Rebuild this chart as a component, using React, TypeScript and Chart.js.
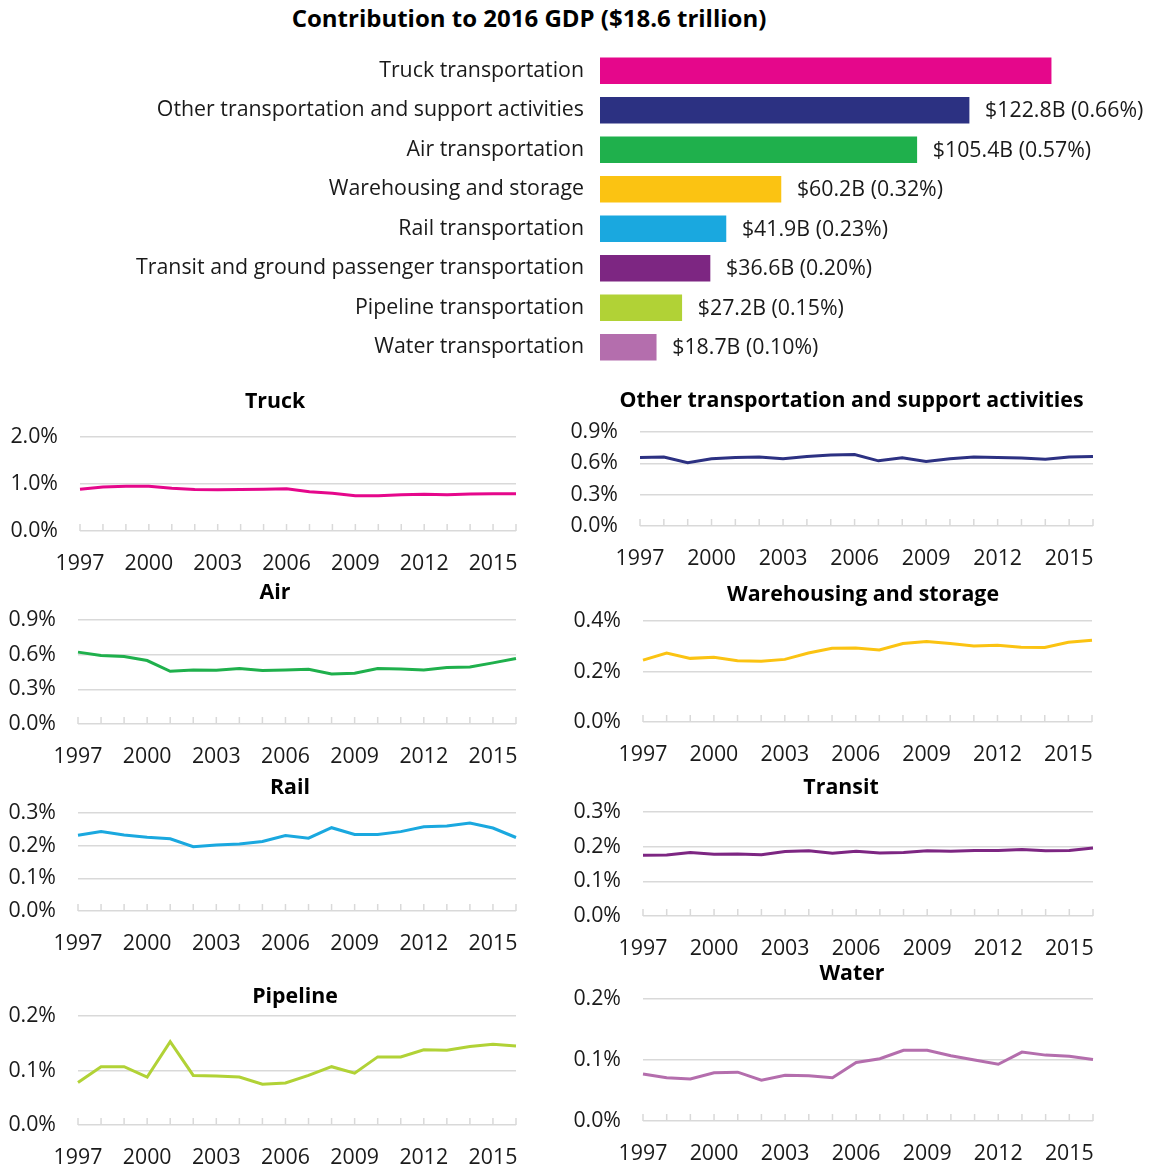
import React, { useEffect, useRef } from 'react';
import { Chart, registerables } from 'chart.js';

Chart.register(...registerables);

const FONT = "'Open Sans', sans-serif";
const TEXT = '#1a1a1a';
const GRID = '#d9d9d9';
const FS = 21.33;

// ---------- Top bar chart data ----------
const barTitle = 'Contribution to 2016 GDP ($18.6 trillion)';
const barCategories = [
  'Truck transportation',
  'Other transportation and support activities',
  'Air transportation',
  'Warehousing and storage',
  'Rail transportation',
  'Transit and ground passenger transportation',
  'Pipeline transportation',
  'Water transportation',
];
const barValues = [150.1, 122.8, 105.4, 60.2, 41.9, 36.6, 27.2, 18.7];
const barValueLabels = [
  '',
  '$122.8B (0.66%)',
  '$105.4B (0.57%)',
  '$60.2B (0.32%)',
  '$41.9B (0.23%)',
  '$36.6B (0.20%)',
  '$27.2B (0.15%)',
  '$18.7B (0.10%)',
];
const barColors = ['#E5078B', '#2C3182', '#1FB04C', '#FBC312', '#1AA8DF', '#7D2682', '#B1D236', '#B46EAD'];

// ---------- Line chart data ----------
const years = ['1997', '1998', '1999', '2000', '2001', '2002', '2003', '2004', '2005', '2006',
  '2007', '2008', '2009', '2010', '2011', '2012', '2013', '2014', '2015', '2016'];
const yearTickLabels = ['1997', '2000', '2003', '2006', '2009', '2012', '2015'];

const truckShare = [0.89, 0.935, 0.95, 0.95, 0.91, 0.885, 0.88, 0.885, 0.89, 0.9,
  0.835, 0.805, 0.75, 0.75, 0.77, 0.78, 0.77, 0.785, 0.79, 0.79];
const otherShare = [0.656, 0.66, 0.605, 0.643, 0.656, 0.66, 0.643, 0.666, 0.68, 0.685,
  0.624, 0.653, 0.618, 0.643, 0.66, 0.656, 0.65, 0.64, 0.66, 0.666];
const airShare = [0.622, 0.593, 0.584, 0.549, 0.456, 0.468, 0.465, 0.48, 0.462, 0.468,
  0.474, 0.433, 0.439, 0.48, 0.477, 0.468, 0.488, 0.494, 0.529, 0.567];
const warehousingShare = [0.245, 0.273, 0.252, 0.256, 0.243, 0.241, 0.248, 0.273, 0.292, 0.293,
  0.285, 0.311, 0.319, 0.311, 0.301, 0.304, 0.296, 0.295, 0.316, 0.324];
const railShare = [0.232, 0.243, 0.233, 0.226, 0.221, 0.197, 0.202, 0.205, 0.213, 0.231,
  0.223, 0.255, 0.234, 0.234, 0.243, 0.258, 0.26, 0.269, 0.254, 0.225];
const transitShare = [0.175, 0.176, 0.183, 0.178, 0.179, 0.177, 0.186, 0.188, 0.181, 0.187,
  0.182, 0.183, 0.188, 0.187, 0.189, 0.189, 0.192, 0.188, 0.189, 0.196];
const pipelineShare = [0.078, 0.107, 0.107, 0.088, 0.153, 0.091, 0.09, 0.088, 0.075, 0.077,
  0.091, 0.107, 0.095, 0.125, 0.125, 0.138, 0.137, 0.144, 0.148, 0.145];
const waterShare = [0.077, 0.071, 0.069, 0.079, 0.08, 0.067, 0.075, 0.074, 0.071, 0.096,
  0.102, 0.116, 0.116, 0.107, 0.1, 0.093, 0.113, 0.108, 0.106, 0.101];

type Panel = {
  title: string;
  values: number[];
  color: string;
  yMax: number;
  yStep: number;
  // layout
  divLeft: number;
  titleX: number;
  titleY: number;
  plotTop: number;
  plotBottom: number;
  plotLeft: number;
  plotRight: number;
};

const LEFT_COL = 0;
const RIGHT_COL = 558;

const panels: Panel[] = [
  { title: 'Truck', values: truckShare, color: barColors[0], yMax: 2, yStep: 1,
    divLeft: LEFT_COL, titleX: 275, titleY: 400, plotTop: 437, plotBottom: 531, plotLeft: 80, plotRight: 516 },
  { title: 'Other transportation and support activities', values: otherShare, color: barColors[1], yMax: 0.9, yStep: 0.3,
    divLeft: RIGHT_COL, titleX: 851.5, titleY: 399, plotTop: 432, plotBottom: 526, plotLeft: 640, plotRight: 1093 },
  { title: 'Air', values: airShare, color: barColors[2], yMax: 0.9, yStep: 0.3,
    divLeft: LEFT_COL, titleX: 275, titleY: 591, plotTop: 620, plotBottom: 724, plotLeft: 78, plotRight: 516 },
  { title: 'Warehousing and storage', values: warehousingShare, color: barColors[3], yMax: 0.4, yStep: 0.2,
    divLeft: RIGHT_COL, titleX: 863, titleY: 593, plotTop: 621, plotBottom: 722, plotLeft: 643, plotRight: 1092 },
  { title: 'Rail', values: railShare, color: barColors[4], yMax: 0.3, yStep: 0.1,
    divLeft: LEFT_COL, titleX: 290, titleY: 786, plotTop: 813, plotBottom: 911, plotLeft: 78, plotRight: 516 },
  { title: 'Transit', values: transitShare, color: barColors[5], yMax: 0.3, yStep: 0.1,
    divLeft: RIGHT_COL, titleX: 841, titleY: 786, plotTop: 812, plotBottom: 916, plotLeft: 643, plotRight: 1093 },
  { title: 'Pipeline', values: pipelineShare, color: barColors[6], yMax: 0.2, yStep: 0.1,
    divLeft: LEFT_COL, titleX: 295, titleY: 995, plotTop: 1016, plotBottom: 1125, plotLeft: 78, plotRight: 516 },
  { title: 'Water', values: waterShare, color: barColors[7], yMax: 0.2, yStep: 0.1,
    divLeft: RIGHT_COL, titleX: 852, titleY: 972, plotTop: 999, plotBottom: 1121, plotLeft: 643, plotRight: 1093 },
];

const X_AXIS_H = 46;
const TITLE_LH = FS * 1.2;

const innerTicks = {
  id: 'innerTicks',
  afterDatasetsDraw(chart: any) {
    const xs = chart.scales.x;
    const ys = chart.scales.y;
    const base = ys.getPixelForValue(0);
    const ctx = chart.ctx;
    ctx.save();
    ctx.strokeStyle = GRID;
    ctx.lineWidth = 1.5;
    ctx.beginPath();
    xs.ticks.forEach((_: any, i: number) => {
      const px = xs.getPixelForTick(i);
      ctx.moveTo(px, base);
      ctx.lineTo(px, base - 7);
    });
    ctx.stroke();
    ctx.restore();
  },
};

function LinePanel({ p }: { p: Panel }) {
  const ref = useRef<HTMLCanvasElement>(null);
  const divTop = p.titleY - 11;
  // spacer on the right so that the title (centred over the canvas) lands where the reference has it
  const rightSpacer = Math.max(0, 2 * p.titleX - p.divLeft - p.plotRight);
  const width = p.plotRight + rightSpacer - p.divLeft;
  const height = p.plotBottom + X_AXIS_H - divTop;
  useEffect(() => {
    const chart = new Chart(ref.current as HTMLCanvasElement, {
      type: 'line',
      data: {
        labels: years,
        datasets: [{
          data: p.values,
          borderColor: p.color,
          backgroundColor: p.color,
          borderWidth: 3,
          pointRadius: 0,
          tension: 0,
          fill: false,
          clip: 4,
        }],
      },
      options: {
        animation: false,
        responsive: false,
        layout: { padding: 0 },
        plugins: {
          legend: { display: false },
          tooltip: { enabled: false },
          title: {
            display: true,
            text: p.title,
            color: '#000',
            font: { family: FONT, size: FS, weight: 'bold', lineHeight: 1.2 },
            padding: { top: 0, bottom: p.plotTop - divTop - TITLE_LH },
          },
        },
        scales: {
          x: {
            type: 'category',
            offset: false,
            grid: { display: false, drawTicks: false },
            border: { display: false },
            ticks: {
              autoSkip: false,
              maxRotation: 0,
              minRotation: 0,
              padding: 20,
              color: TEXT,
              font: { family: FONT, size: FS },
              callback: (_v: any, i: number) => (yearTickLabels.includes(years[i]) ? years[i] : ''),
            },
            afterFit: (s: any) => {
              s.height = X_AXIS_H;
              s.paddingLeft = 0;
              s.paddingRight = 0;
            },
          },
          y: {
            min: 0,
            max: p.yMax,
            grid: { color: GRID, lineWidth: 1.5, drawTicks: false },
            border: { display: false },
            ticks: {
              stepSize: p.yStep,
              padding: 22,
              color: TEXT,
              font: { family: FONT, size: FS },
              callback: (v: any) => Number(v).toFixed(1) + '%',
            },
            afterFit: (s: any) => {
              s.width = p.plotLeft - p.divLeft;
              s.paddingTop = 0;
              s.paddingBottom = 0;
            },
          },
          spacer: {
            type: 'linear',
            position: 'right',
            display: true,
            grid: { display: false, drawTicks: false },
            border: { display: false },
            ticks: { display: false },
            afterFit: (s: any) => {
              s.width = rightSpacer;
              s.paddingTop = 0;
              s.paddingBottom = 0;
            },
          },
        },
      } as any,
      plugins: [innerTicks],
    });
    return () => chart.destroy();
  }, [p]);
  return (
    <div style={{ position: 'absolute', left: p.divLeft, top: divTop, width, height }}>
      <canvas ref={ref} width={width} height={height} style={{ width, height }} />
    </div>
  );
}

const valueLabels = {
  id: 'valueLabels',
  afterDatasetsDraw(chart: any) {
    const meta = chart.getDatasetMeta(0);
    const ctx = chart.ctx;
    ctx.save();
    ctx.fillStyle = TEXT;
    ctx.font = `${FS}px ${FONT}`;
    ctx.textBaseline = 'middle';
    ctx.textAlign = 'left';
    meta.data.forEach((bar: any, i: number) => {
      const label = barValueLabels[i];
      if (label) ctx.fillText(label, bar.x + 16, bar.y + 1);
    });
    ctx.restore();
  },
};

const BAR_TOP = 51;
const BAR_H = 316;
const BAR_W = 1150;

function BarPanel() {
  const ref = useRef<HTMLCanvasElement>(null);
  useEffect(() => {
    const chart = new Chart(ref.current as HTMLCanvasElement, {
      type: 'bar',
      data: {
        labels: barCategories,
        datasets: [{ data: barValues, backgroundColor: barColors, barThickness: 26 }],
      },
      options: {
        indexAxis: 'y',
        animation: false,
        responsive: false,
        layout: { padding: 0 },
        plugins: { legend: { display: false }, tooltip: { enabled: false } },
        scales: {
          x: { display: false, min: 0, max: 183 },
          y: {
            grid: { display: false, drawTicks: false },
            border: { display: false },
            ticks: { padding: 16, color: TEXT, font: { family: FONT, size: FS } },
            afterFit: (s: any) => {
              s.width = 600;
              s.paddingTop = 0;
              s.paddingBottom = 0;
            },
          },
        },
      } as any,
      plugins: [valueLabels],
    });
    return () => chart.destroy();
  }, []);
  return (
    <div style={{ position: 'absolute', left: 0, top: BAR_TOP, width: BAR_W, height: BAR_H }}>
      <canvas ref={ref} width={BAR_W} height={BAR_H} style={{ width: BAR_W, height: BAR_H }} />
    </div>
  );
}

export default function App() {
  return (
    <div style={{ position: 'absolute', left: 0, top: 0, width: 1150, height: 1167, background: '#fff', overflow: 'hidden' }}>
      <div
        style={{
          position: 'absolute', left: 0, top: 4, width: 1058, textAlign: 'center',
          fontFamily: FONT, fontWeight: 'bold', fontSize: 24, lineHeight: '28px', color: '#000',
        }}
      >
        {barTitle}
      </div>
      <BarPanel />
      {panels.map((p) => (
        <LinePanel key={p.title} p={p} />
      ))}
    </div>
  );
}
